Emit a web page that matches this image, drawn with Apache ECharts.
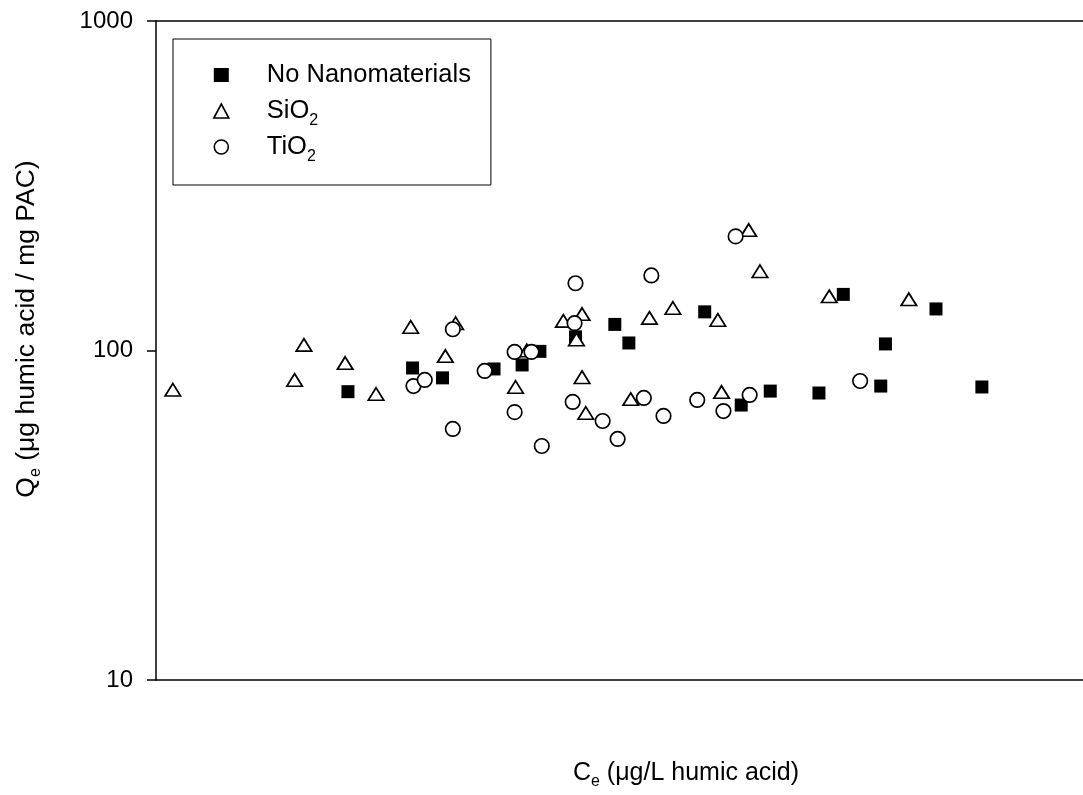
<!DOCTYPE html>
<html>
<head>
<meta charset="utf-8">
<title>Humic acid adsorption on PAC</title>
<script src="https://cdn.jsdelivr.net/npm/echarts@6/dist/echarts.min.js"></script>
<style>
  html, body { margin: 0; padding: 0; background: #fff; }
  #chart { width: 1083px; height: 795px; }
</style>
</head>
<body>
<div id="chart"></div>
<script>
// Equilibrium concentration C_e (relative units along the unlabeled x axis)
// and adsorbed amount Q_e (µg humic acid / mg PAC) for each condition.
const noneX = [205, 274, 306, 361, 391, 410, 448, 490, 505, 586, 625, 656, 708, 734, 774, 779, 833, 882];
const noneY = [75, 88.5, 82.6, 87.9, 90.4, 99.4, 110, 120, 105.4, 131, 68.3, 75.3, 74.3, 148, 78, 104.7, 133.7, 77.5];

const sio2X = [18, 148, 158, 202, 235, 272, 309, 320, 384, 396, 435, 449, 455, 455, 459, 507, 527, 552, 600, 604, 633, 645, 719, 804];
const sio2Y = [76, 81.4, 104, 91.6, 73.8, 117.9, 96.2, 121, 77.5, 100, 123, 108, 129, 83, 64.6, 71.2, 125.6, 134.6, 123.8, 74.8, 232, 174, 146, 143];

const tio2X = [275, 287, 317, 317, 351, 383, 383, 401, 412, 445, 447, 448, 477, 493, 521, 529, 542, 578, 606, 619, 634, 752];
const tio2Y = [78, 81.4, 116, 57.8, 86.7, 99, 65, 99, 51.3, 69.8, 121, 160, 61.1, 53.9, 71.8, 169, 63.3, 70.8, 65.5, 222, 73.3, 80.8];

const xRange = [0, 990];
const yTicks = [10, 100, 1000];
const seriesNames = ['No Nanomaterials', 'SiO2', 'TiO2'];

const FONT = "'Liberation Sans', Arial, Helvetica, sans-serif";
const zip = (xs, ys) => xs.map((x, i) => [x, ys[i]]);

// Legend / title labels with chemical subscripts
const legendLabel = {
  'No Nanomaterials': '{g|}{t|No Nanomaterials}',
  'SiO2': '{g|}{t|SiO}{s|2}',
  'TiO2': '{g|}{t|TiO}{s|2}'
};

const hollow = { color: '#fff', borderColor: '#000', borderWidth: 1.7, opacity: 1 };
const frameLine = { color: '#000', width: 1.5 };

const chart = echarts.init(document.getElementById('chart'), null, { renderer: 'canvas' });

chart.setOption({
  animation: false,
  backgroundColor: '#fff',
  textStyle: { fontFamily: FONT },
  grid: {
    left: 156, top: 21, bottom: 115, right: 0,
    show: false,
    containLabel: false
  },
  xAxis: [
    {
      type: 'value', min: xRange[0], max: xRange[1], position: 'bottom',
      axisLine: { show: true, onZero: false, lineStyle: frameLine },
      axisTick: { show: false },
      axisLabel: { show: false },
      splitLine: { show: false }
    },
    {
      // top frame line of the plot
      type: 'value', min: xRange[0], max: xRange[1], position: 'top',
      axisLine: { show: true, onZero: false, lineStyle: frameLine },
      axisTick: { show: false },
      axisLabel: { show: false },
      splitLine: { show: false }
    }
  ],
  yAxis: {
    type: 'log', logBase: 10, min: yTicks[0], max: yTicks[yTicks.length - 1],
    axisLine: { show: true, lineStyle: frameLine },
    axisTick: { show: true, length: 9, lineStyle: frameLine },
    minorTick: { show: false },
    axisLabel: {
      fontSize: 24, color: '#000', margin: 23, fontFamily: FONT,
      formatter: v => yTicks.includes(Math.round(v)) ? String(Math.round(v)) : ''
    },
    splitLine: { show: false }
  },
  legend: {
    orient: 'vertical',
    left: 173, top: 39,
    padding: [18, 20, 20, 40],
    itemGap: 0,
    itemWidth: 15, itemHeight: 14,
    selectedMode: false,
    borderColor: '#000', borderWidth: 1,
    backgroundColor: '#fff',
    data: [
      { name: seriesNames[0], icon: 'rect', itemStyle: { color: '#000', borderWidth: 0, opacity: 1 } },
      { name: seriesNames[1], icon: 'triangle', itemStyle: { color: '#fff', borderColor: '#000', borderWidth: 1.6, opacity: 1 } },
      { name: seriesNames[2], icon: 'circle', itemStyle: { color: '#fff', borderColor: '#000', borderWidth: 1.6, opacity: 1 } }
    ],
    formatter: name => legendLabel[name],
    textStyle: {
      color: '#000', fontFamily: FONT,
      height: 36, lineHeight: 36,
      rich: {
        g: { width: 33, height: 36, lineHeight: 36 },
        t: { fontSize: 25.5, lineHeight: 36, color: '#000', fontFamily: FONT },
        s: { fontSize: 16, lineHeight: 20, verticalAlign: 'bottom', color: '#000', fontFamily: FONT }
      }
    }
  },
  graphic: [
    {
      type: 'text',
      x: 686, y: 773,
      style: {
        text: '{t|C}{s|e}{t| (μg/L humic acid)}',
        align: 'center', verticalAlign: 'middle',
        rich: {
          t: { fontSize: 25, lineHeight: 34, fill: '#000', fontFamily: FONT },
          s: { fontSize: 16, lineHeight: 18, verticalAlign: 'bottom', fill: '#000', fontFamily: FONT }
        }
      }
    },
    {
      type: 'text',
      x: 27, y: 329,
      rotation: Math.PI / 2,
      style: {
        text: '{t|Q}{s|e}{t| (μg humic acid / mg PAC)}',
        align: 'center', verticalAlign: 'middle',
        rich: {
          t: { fontSize: 26.5, lineHeight: 34, fill: '#000', fontFamily: FONT },
          s: { fontSize: 16, lineHeight: 18, verticalAlign: 'bottom', fill: '#000', fontFamily: FONT }
        }
      }
    }
  ],
  series: [
    {
      name: seriesNames[0], type: 'scatter', symbol: 'rect', symbolSize: 13,
      itemStyle: { color: '#000', opacity: 1 }, z: 2,
      emphasis: { disabled: true },
      data: zip(noneX, noneY)
    },
    {
      name: seriesNames[1], type: 'scatter', symbol: 'triangle', symbolSize: [15.5, 12.5],
      itemStyle: hollow, z: 3,
      emphasis: { disabled: true },
      data: zip(sio2X, sio2Y)
    },
    {
      name: seriesNames[2], type: 'scatter', symbol: 'circle', symbolSize: 14.5,
      itemStyle: hollow, z: 4,
      emphasis: { disabled: true },
      data: zip(tio2X, tio2Y)
    }
  ]
});
</script>
</body>
</html>
